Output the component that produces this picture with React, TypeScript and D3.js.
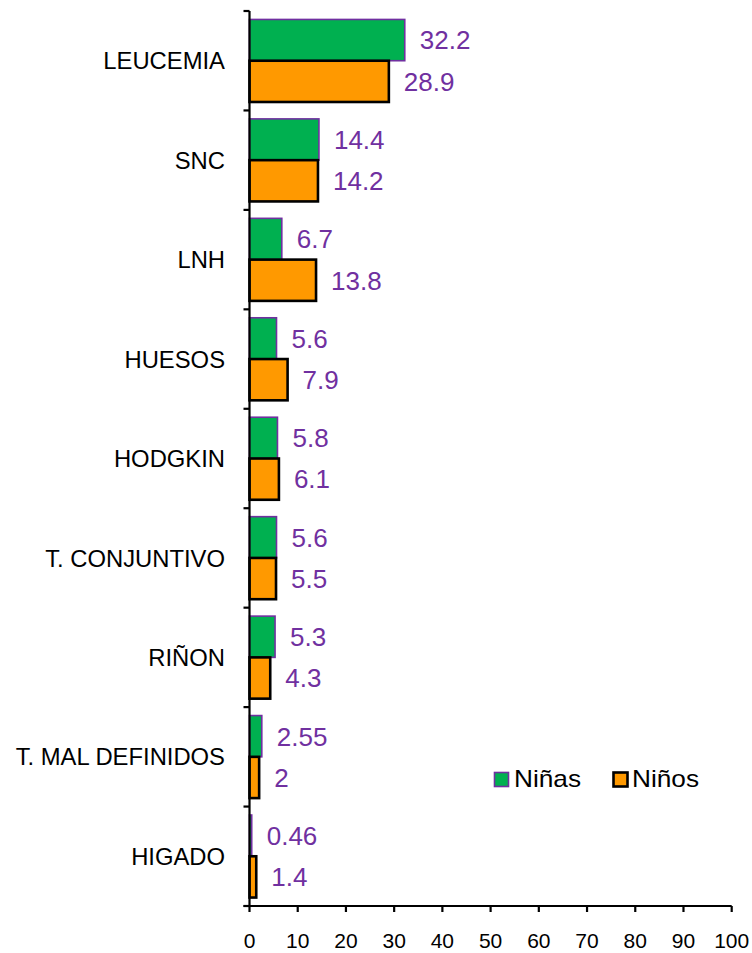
import React from "react";
import * as d3 from "d3";

const categories = ["LEUCEMIA", "SNC", "LNH", "HUESOS", "HODGKIN", "T. CONJUNTIVO", "RIÑON", "T. MAL DEFINIDOS", "HIGADO"];
const ninas = [32.2, 14.4, 6.7, 5.6, 5.8, 5.6, 5.3, 2.55, 0.46];
const ninos = [28.9, 14.2, 13.8, 7.9, 6.1, 5.5, 4.3, 2, 1.4];
const ninasLabels = ["32.2", "14.4", "6.7", "5.6", "5.8", "5.6", "5.3", "2.55", "0.46"];
const ninosLabels = ["28.9", "14.2", "13.8", "7.9", "6.1", "5.5", "4.3", "2", "1.4"];
const series = ["Niñas", "Niños"];
const xTicks = [0, 10, 20, 30, 40, 50, 60, 70, 80, 90, 100];

const FONT = "'Liberation Sans', Arial, Helvetica, sans-serif";
const GREEN = "#00B050";
const ORANGE = "#FF9900";
const PURPLE = "#7030A0";

export default function App() {
  const W = 752, H = 953;
  const x0 = 249.5, x1 = 731.7, yTop = 11, yBot = 906;
  const x = d3.scaleLinear().domain([0, 100]).range([x0, x1]);
  const y = d3.scaleBand<string>().domain(categories).range([yTop, yBot]).paddingInner(0.17).paddingOuter(0.085);
  const yIn = d3.scaleBand<string>().domain(series).range([0, y.bandwidth()]);
  const step = y.step();
  const boundaries = d3.range(categories.length + 1).map((i) => yTop + i * step);

  const data = [
    { name: "Niñas", values: ninas, labels: ninasLabels, fill: GREEN, stroke: PURPLE, sw: 1.6 },
    { name: "Niños", values: ninos, labels: ninosLabels, fill: ORANGE, stroke: "#000", sw: 2.6 },
  ];

  return (
    <svg width={W} height={H} style={{ position: "absolute", left: 0, top: 0, background: "#fff" }} fontFamily={FONT}>
      {/* bars */}
      {data.map((s) =>
        categories.map((c, i) => (
          <rect
            key={s.name + c}
            x={x(0)}
            y={(y(c) as number) + (yIn(s.name) as number)}
            width={x(s.values[i]) - x(0)}
            height={yIn.bandwidth()}
            fill={s.fill}
            stroke={s.stroke}
            strokeWidth={s.sw}
          />
        ))
      )}
      {/* value labels */}
      {data.map((s) =>
        categories.map((c, i) => (
          <text
            key={"l" + s.name + c}
            x={x(s.values[i]) + 15}
            y={(y(c) as number) + (yIn(s.name) as number) + yIn.bandwidth() / 2}
            dy="0.36em"
            fontSize={26}
            fill={PURPLE}
          >
            {s.labels[i]}
          </text>
        ))
      )}
      {/* y axis */}
      <line x1={x0} x2={x0} y1={yTop} y2={yBot} stroke="#000" strokeWidth={2.2} />
      {boundaries.map((b, i) => (
        <line key={"yt" + i} x1={x0 - 6} x2={x0} y1={b} y2={b} stroke="#000" strokeWidth={2.2} />
      ))}
      {categories.map((c) => (
        <text key={"c" + c} x={225} y={(y(c) as number) + y.bandwidth() / 2} dy="0.36em" textAnchor="end" fontSize={23.8} fill="#000">
          {c}
        </text>
      ))}
      {/* x axis */}
      <line x1={x0 - 6} x2={x1} y1={yBot} y2={yBot} stroke="#000" strokeWidth={2.2} />
      {xTicks.map((t) => (
        <g key={"xt" + t}>
          <line x1={x(t)} x2={x(t)} y1={yBot} y2={yBot + 6} stroke="#000" strokeWidth={2.2} />
          <text x={x(t)} y={948} textAnchor="middle" fontSize={21} fill="#000">
            {t}
          </text>
        </g>
      ))}
      {/* legend */}
      <rect x={494.5} y={772.5} width={14} height={14} fill={GREEN} stroke={PURPLE} strokeWidth={1.6} />
      <text transform="translate(514,787) scale(1.14,1)" fontSize={23} fill="#000">Niñas</text>
      <rect x={613.5} y={772.5} width={14} height={14} fill={ORANGE} stroke="#000" strokeWidth={2.6} />
      <text transform="translate(632,787) scale(1.14,1)" fontSize={23} fill="#000">Niños</text>
    </svg>
  );
}
